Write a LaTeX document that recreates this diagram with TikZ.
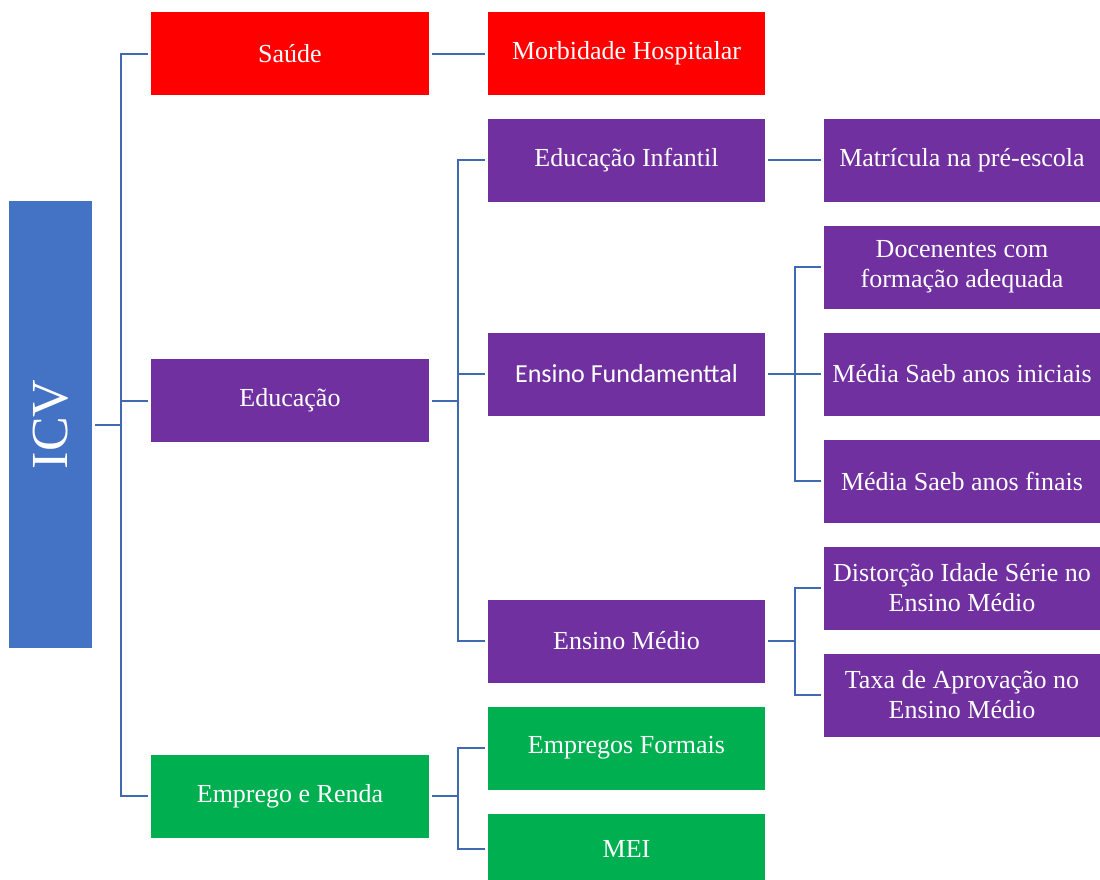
\documentclass[tikz,border=0pt]{standalone}
\usepackage{fontspec}
\setmainfont{Liberation Serif}
\newfontfamily\calibri{Carlito}
\definecolor{icvblue}{RGB}{68,114,196}
\definecolor{cred}{RGB}{255,0,0}
\definecolor{cpurple}{RGB}{112,48,160}
\definecolor{cgreen}{RGB}{0,176,80}
\definecolor{connblue}{RGB}{65,105,178}
\tikzset{
  box/.style={inner sep=0pt, minimum height=83bp, text=white, align=center,
    font=\fontsize{26bp}{30bp}\selectfont},
  lvone/.style={box, minimum width=278bp},
  lvtwo/.style={box, minimum width=277bp},
  lvthree/.style={box, minimum width=276bp},
  redbox/.style={fill=cred},
  purplebox/.style={fill=cpurple},
  greenbox/.style={fill=cgreen},
  conn/.style={draw=connblue, line width=2bp},
}
\begin{document}
\begin{tikzpicture}[x=1bp,y=-1bp]
\useasboundingbox (0,0) rectangle (1100,880);
% root
\node[box, fill=icvblue, minimum width=83bp, minimum height=447bp,
  font=\fontsize{52bp}{56bp}\selectfont] (icv) at (50.5,424.5) {};
\node[text=white, rotate=90, inner sep=0pt, font=\fontsize{52bp}{56bp}\selectfont] (icvtxt) at (icv.center) {ICV};
% level 1
\node[lvone, redbox] (saude) at (290,53.5) {Saúde};
\node[lvone, purplebox] (educ) at (290,400.5) {Educação};
\node[lvone, greenbox] (emp) at (290,796) {Emprego e Renda};
% level 2
\node[lvtwo, redbox] (morb) at (626.5,53.5) {Morbidade Hospitalar};
\node[lvtwo, purplebox] (einf) at (626.5,160) {Educação Infantil};
\node[lvtwo, purplebox, font=\calibri\fontsize{26bp}{30bp}\selectfont] (efund) at (626.5,374) {Ensino Fundamenttal};
\node[lvtwo, purplebox] (emed) at (626.5,641) {Ensino Médio};
\node[lvtwo, greenbox] (eform) at (626.5,748) {Empregos Formais};
\node[lvtwo, greenbox, minimum height=70bp] (mei) at (626.5,849) {MEI};
% level 3
\node[lvthree, purplebox] (matr) at (962,160) {Matrícula na pré-escola};
\node[lvthree, purplebox] (doc) at (962,267) {Docenentes com\\formação adequada};
\node[lvthree, purplebox] (mini) at (962,374) {Média Saeb anos iniciais};
\node[lvthree, purplebox] (mfin) at (962,481) {Média Saeb anos finais};
\node[lvthree, purplebox] (dist) at (962,588) {Distorção Idade Série no\\Ensino Médio};
\node[lvthree, purplebox] (taxa) at (962,695) {Taxa de Aprovação no\\Ensino Médio};
% connectors root -> level 1
\foreach \c in {saude,educ,emp}
  \draw[conn] ([xshift=3bp]icv.east) -- ++(26,0) |- ([xshift=-3bp]\c.west);
% level 1 -> level 2
\draw[conn] ([xshift=3bp]saude.east) -- ([xshift=-3bp]morb.west);
\foreach \c in {einf,efund,emed}
  \draw[conn] ([xshift=3bp]educ.east) -- ++(26,0) |- ([xshift=-3bp]\c.west);
\foreach \c in {eform,mei}
  \draw[conn] ([xshift=3bp]emp.east) -- ++(26,0) |- ([xshift=-3bp]\c.west);
% level 2 -> level 3
\draw[conn] ([xshift=3bp]einf.east) -- ([xshift=-3bp]matr.west);
\foreach \c in {doc,mini,mfin}
  \draw[conn] ([xshift=3bp]efund.east) -- ++(27,0) |- ([xshift=-3bp]\c.west);
\foreach \c in {dist,taxa}
  \draw[conn] ([xshift=3bp]emed.east) -- ++(27,0) |- ([xshift=-3bp]\c.west);
\end{tikzpicture}
\end{document}
